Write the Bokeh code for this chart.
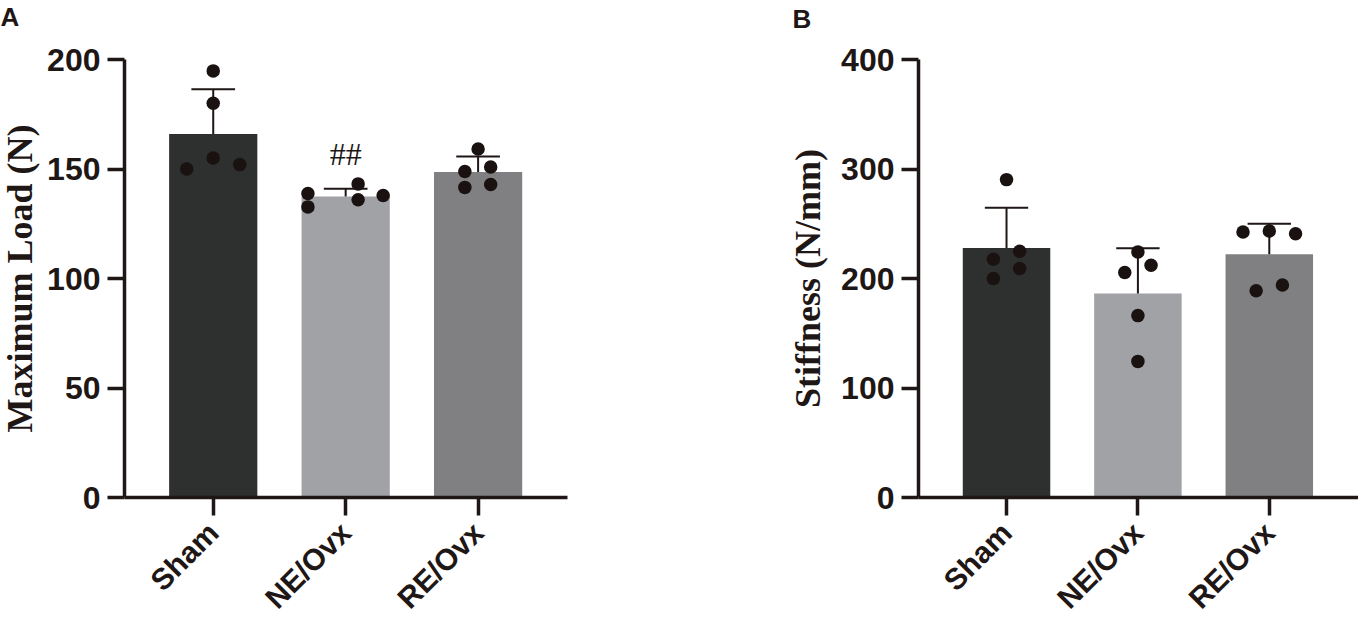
import math
from bokeh.plotting import figure
from bokeh.layouts import row
from bokeh.models import Range1d, FixedTicker, Label, Title
from bokeh.embed import file_html
from bokeh.resources import INLINE

# ---------------- data ----------------
groups = ["Sham", "NE/Ovx", "RE/Ovx"]
group_pos = [1, 2, 3]
bar_colors = ["#2e2f2f", "#a1a2a5", "#808082"]

pt_group = [1, 1, 1, 1, 1, 2, 2, 2, 2, 2, 3, 3, 3, 3, 3]

load_mean = [166.0, 137.4, 148.6]
load_sd = [20.4, 3.6, 7.1]
load_pt_dx = [0, 0, 0, -0.2, 0.2, -0.285, -0.285, 0.094, 0.094, 0.283, 0, -0.1, 0.095, -0.1, 0.095]
load_pt_val = [194.8, 180.0, 155.0, 150.0, 152.0, 138.8, 132.7, 143.2, 136.0, 137.9,
               159.1, 148.9, 150.9, 141.6, 142.9]
load_ticks = [0, 50, 100, 150, 200]

stiff_mean = [227.9, 186.4, 222.2]
stiff_sd = [36.6, 41.2, 27.8]
stiff_pt_dx = [0, 0.1, -0.1, 0.1, -0.1, 0, -0.1, 0.1, 0, 0, -0.2, 0, 0.2, -0.1, 0.1]
stiff_pt_val = [290.3, 224.9, 217.6, 209.1, 200.0, 224.3, 205.5, 212.1, 166.1, 124.3,
                242.5, 243.4, 240.9, 188.8, 194.0]
stiff_ticks = [0, 100, 200, 300, 400]

AX = "#1e1715"
PT = "#1a1210"


def make_panel(means, sds, pt_dx, pt_val, y_end, y_ticks, y_label, letter,
               letter_offset, spacer, ylab_standoff, width, bl, br, bt, bb, x_end):
    p = figure(width=width, height=631,
               x_range=Range1d(0.33, x_end), y_range=Range1d(0, y_end),
               output_backend="svg", toolbar_location=None,
               min_border_left=bl, min_border_right=br,
               min_border_top=bt, min_border_bottom=bb)
    p.outline_line_color = None
    p.xgrid.visible = False
    p.ygrid.visible = False
    p.background_fill_color = "white"

    # panel letter (outermost title) + a blank spacer title next to the frame
    p.add_layout(Title(text=" ", text_font_size="1px", standoff=spacer), "above")
    p.title.text = letter
    p.title.align = "left"
    p.title.vertical_align = "top"
    p.title.offset = letter_offset
    p.title.standoff = 0
    p.title.text_font = "Liberation Sans"
    p.title.text_font_style = "bold"
    p.title.text_font_size = "26px"
    p.title.text_color = AX

    p.vbar(x=group_pos, top=means, bottom=0, width=0.666,
           fill_color=bar_colors, line_color=None)
    upper = [m + s for m, s in zip(means, sds)]
    p.segment(x0=group_pos, y0=means, x1=group_pos, y1=upper,
              line_color=AX, line_width=2)
    p.segment(x0=[g - 0.165 for g in group_pos], y0=upper,
              x1=[g + 0.165 for g in group_pos], y1=upper,
              line_color=AX, line_width=2)
    xs = [g + d for g, d in zip(pt_group, pt_dx)]
    p.scatter(x=xs, y=pt_val, size=13.5, fill_color=PT, line_color=None)

    xa = p.xaxis[0]
    xa.ticker = FixedTicker(ticks=group_pos)
    xa.major_label_overrides = {g: n for g, n in zip(group_pos, groups)}
    xa.major_label_orientation = math.pi / 4
    xa.major_label_text_font = "Liberation Sans"
    xa.major_label_text_font_style = "bold"
    xa.major_label_text_font_size = "30px"
    xa.major_label_text_color = AX
    xa.major_label_standoff = 12
    xa.major_tick_out = 18
    xa.major_tick_in = 0
    xa.minor_tick_out = 0
    xa.minor_tick_in = 0
    xa.axis_line_width = 3.5
    xa.axis_line_color = AX
    xa.major_tick_line_width = 3.5
    xa.major_tick_line_color = AX

    ya = p.yaxis[0]
    ya.ticker = FixedTicker(ticks=y_ticks)
    ya.axis_label = y_label
    ya.axis_label_text_font = "Liberation Serif"
    ya.axis_label_text_font_style = "bold"
    ya.axis_label_text_font_size = "36px"
    ya.axis_label_text_color = AX
    ya.axis_label_standoff = ylab_standoff
    ya.major_label_text_font = "Liberation Sans"
    ya.major_label_text_font_style = "bold"
    ya.major_label_text_font_size = "32px"
    ya.major_label_text_color = AX
    ya.major_label_standoff = 7
    ya.major_tick_out = 17
    ya.major_tick_in = 0
    ya.minor_tick_out = 0
    ya.minor_tick_in = 0
    ya.axis_line_width = 3.5
    ya.axis_line_color = AX
    ya.major_tick_line_width = 3.5
    ya.major_tick_line_color = AX
    return p


pA = make_panel(load_mean, load_sd, load_pt_dx, load_pt_val, 200, load_ticks,
                "Maximum Load (N)", "A", -124, 23, 4,
                794, 133, 218, 59, 132, 3.675)
pA.margin = (0, 0, 0, -9)
pB = make_panel(stiff_mean, stiff_sd, stiff_pt_dx, stiff_pt_val, 400, stiff_ticks,
                "Stiffness (N/mm)", "B", -126, 21, 10,
                573, 130, 0, 57, 134, 3.679)

pA.add_layout(Label(x=2, y=157, text="##", text_font="Liberation Serif",
                    text_font_size="32px", text_color=AX,
                    text_align="center", text_baseline="middle"))

layout = row(pA, pB)
open("out.html", "w").write(file_html(layout, INLINE))
